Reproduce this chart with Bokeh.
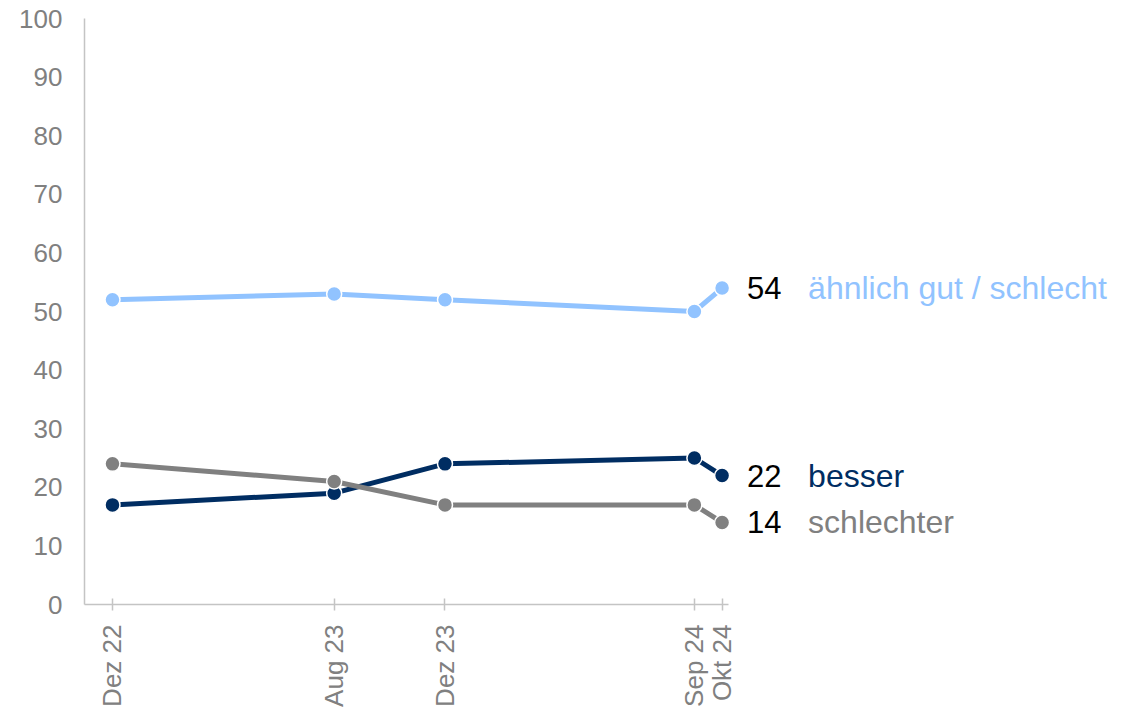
import math
from bokeh.plotting import figure
from bokeh.models import Range1d, FixedTicker, Label
from bokeh.embed import file_html
from bokeh.resources import INLINE

# Data
months = [0, 8, 12, 21, 22]
month_labels = ["Dez 22", "Aug 23", "Dez 23", "Sep 24", "Okt 24"]
aehnlich = [52, 53, 52, 50, 54]
besser = [17, 19, 24, 25, 22]
schlechter = [24, 21, 17, 17, 14]

series = [
    ("ähnlich gut / schlecht", aehnlich, "#91c3ff"),
    ("besser", besser, "#002d62"),
    ("schlechter", schlechter, "#808080"),
]

FONT = "Liberation Sans"
GRAY = "#808080"
AXIS = "#c4c4c4"

X0, X1 = -1.01, 22.24
p = figure(width=1140, height=710, output_backend="svg", toolbar_location=None,
           x_range=Range1d(X0, 37.1), y_range=Range1d(0, 100),
           min_border_left=84, min_border_right=0, min_border_top=18,
           min_border_bottom=106)
p.outline_line_color = None
p.xgrid.visible = False
p.ygrid.visible = False
p.background_fill_color = "white"

for name, vals, col in series:
    p.line(months, vals, line_color=col, line_width=5)
    p.scatter(months, vals, size=15, fill_color=col, line_color="white", line_width=1.5)
    p.add_layout(Label(x=months[-1], y=vals[-1], text=str(vals[-1]), x_offset=25,
                       text_baseline="middle", text_align="left", text_color="black",
                       text_font=FONT, text_font_size="31px"))
    p.add_layout(Label(x=months[-1], y=vals[-1], text=name, x_offset=86,
                       text_baseline="middle", text_align="left", text_color=col,
                       text_font=FONT, text_font_size="32px"))

# y axis
p.yaxis.ticker = FixedTicker(ticks=list(range(0, 101, 10)))
p.yaxis.axis_line_color = AXIS
p.yaxis.axis_line_width = 1.5
p.yaxis.major_tick_out = 0
p.yaxis.major_tick_in = 0
p.yaxis.minor_tick_line_color = None
p.yaxis.major_label_text_font = FONT
p.yaxis.major_label_text_font_size = "26px"
p.yaxis.major_label_text_color = GRAY
p.yaxis.major_label_standoff = 22

# x axis
p.xaxis.ticker = FixedTicker(ticks=months)
p.xaxis.bounds = (X0, X1)
p.xaxis.major_label_overrides = {m: l for m, l in zip(months, month_labels)}
p.xaxis.major_label_orientation = math.pi / 2
p.xaxis.axis_line_color = AXIS
p.xaxis.axis_line_width = 1.5
p.xaxis.major_tick_line_color = AXIS
p.xaxis.major_tick_line_width = 1.5
p.xaxis.major_tick_out = 6
p.xaxis.major_tick_in = 6
p.xaxis.minor_tick_line_color = None
p.xaxis.major_label_text_font = FONT
p.xaxis.major_label_text_font_size = "26px"
p.xaxis.major_label_text_color = GRAY
p.xaxis.major_label_standoff = 14

open("out.html", "w").write(file_html(p, INLINE))
